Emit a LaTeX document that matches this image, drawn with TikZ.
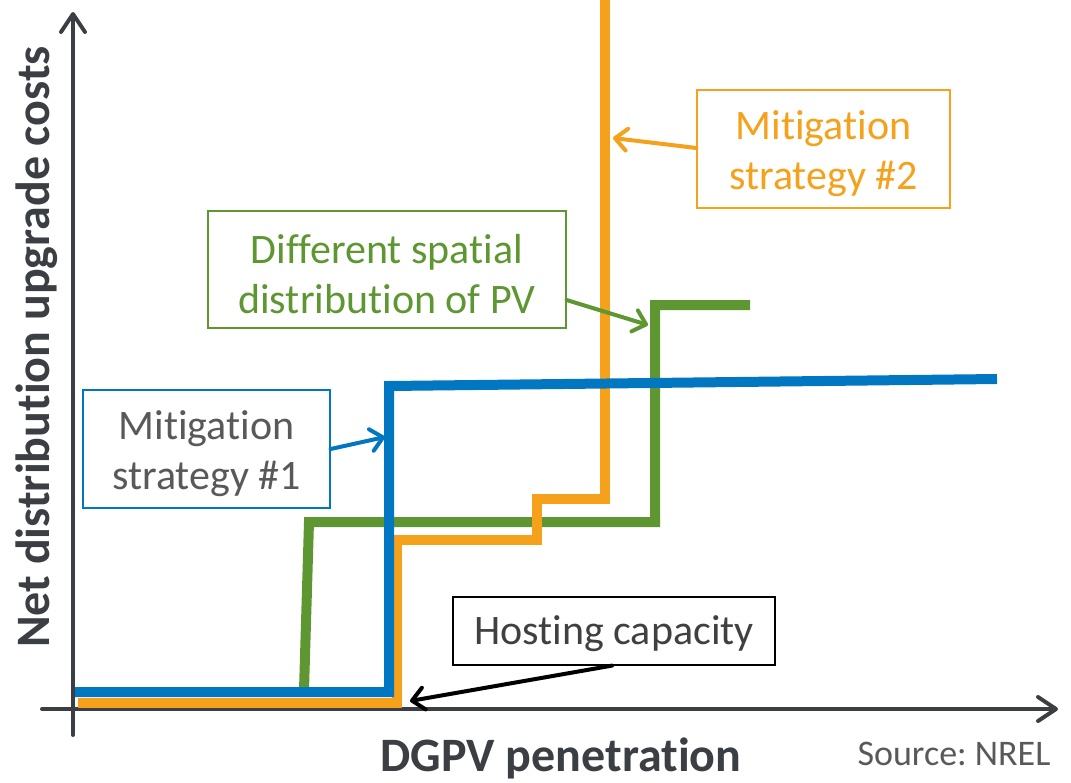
\documentclass[tikz,border=0pt]{standalone}
\usepackage{fontspec}
\setmainfont{Carlito}[Ligatures=NoCommon, RawFeature={-liga;-calt}]
\usetikzlibrary{arrows.meta}
\definecolor{axisgray}{HTML}{3B3F44}
\definecolor{cblue}{HTML}{0077C0}
\definecolor{corange}{HTML}{F5A11C}
\definecolor{cgreen}{HTML}{5E9732}
\definecolor{tgray}{HTML}{595959}
\definecolor{tdark}{HTML}{404040}
\tikzset{
  axis/.style={draw=axisgray, line width=4pt, line cap=round, -{Straight Barb[length=18pt,width=24pt,line cap=round,line join=round]}},
  curve/.style={line width=10pt, line join=miter},
  lbox/.style={draw, line width=1.2pt, inner sep=0pt},
  ltext/.style={align=center, inner sep=0pt, yshift=-5pt, font=\fontsize{42}{50}\selectfont},
  pointer/.style={line width=4pt, line cap=round, -{Straight Barb[length=12pt,width=22pt,line cap=round,line join=round]}},
}
\begin{document}
\begin{tikzpicture}[x=1pt,y=-1pt]
\useasboundingbox (0,0) rectangle (1071,782);
% axes
\coordinate (yb) at (73,735);
\coordinate (yt) at (73,12);
\coordinate (xl) at (42,709);
\coordinate (xr) at (1058,709);
\draw[axis] (yb) -- (yt);
\draw[axis] (xl) -- (xr);
% curves
\draw[curve, cgreen] (304,690) -- (309,522) -- (655,522) -- (655,305) -- (750,305);
\draw[curve, corange] (78,703) -- (397,703) -- (397,540) -- (537,540) -- (537,499) -- (605,499) -- (605,0);
\draw[curve, cblue] (75,692) -- (389,692) -- (389,386) -- (997,379);
% labels
\node[lbox, draw=corange, minimum width=253pt, minimum height=118pt,
  label={[ltext, text=corange]center:{Mitigation\\strategy \#2}}] (m2) at (823.5,149) {};
\node[lbox, draw=cgreen, minimum width=358pt, minimum height=117pt,
  label={[ltext, text=cgreen]center:{Different spatial\\distribution of PV}}] (sp) at (387,269.5) {};
\node[lbox, draw=cblue, minimum width=247pt, minimum height=118pt,
  label={[ltext, text=tgray]center:{Mitigation\\strategy \#1}}] (m1) at (206.5,449) {};
\node[lbox, draw=black, minimum width=322pt, minimum height=68pt,
  label={[ltext, text=tdark, yshift=2pt]center:{Hosting capacity}}] (hc) at (614,631) {};
% pointer arrows
\coordinate (m2t) at (613,138);
\coordinate (spt) at (648,325);
\coordinate (m1t) at (385,437);
\coordinate (hct) at (410,701);
\draw[pointer, corange] (m2.west |- 0,148) -- (m2t);
\draw[pointer, cgreen] (sp.east |- 0,300) -- (spt);
\draw[pointer, cblue] (m1.east |- 0,449) -- (m1t);
\draw[pointer, black] (hc.south -| 612,0) -- (hct);
% axis titles
\node[rotate=90, text=axisgray, font=\fontsize{48}{56}\selectfont\bfseries] (yl) at (37,347) {Net distribution upgrade costs};
\node[text=axisgray, font=\fontsize{48}{56}\selectfont\bfseries] (xlab) at (561,758) {DGPV penetration};
\node[text=tgray, font=\fontsize{36}{42}\selectfont] (src) at (954,754) {Source:\ NREL};
\end{tikzpicture}
\end{document}
